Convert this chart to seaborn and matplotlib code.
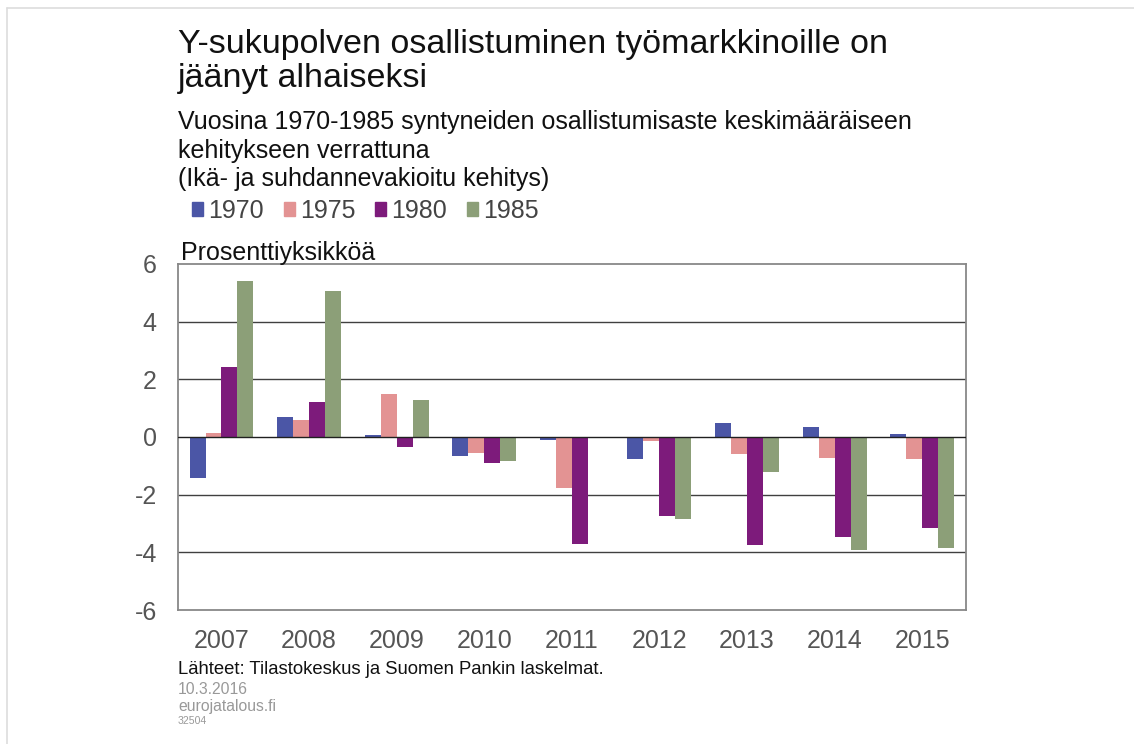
import pandas as pd
import numpy as np
import matplotlib.pyplot as plt
import seaborn as sns
from matplotlib.lines import Line2D

# Data
years = ['2007', '2008', '2009', '2010', '2011', '2012', '2013', '2014', '2015']
cohorts = ['1970', '1975', '1980', '1985']
v1970 = [-1.41, 0.68, 0.08, -0.67, -0.09, -0.78, 0.49, 0.34, 0.10]
v1975 = [0.14, 0.60, 1.48, -0.56, -1.77, -0.13, -0.60, -0.72, -0.76]
v1980 = [2.41, 1.20, -0.33, -0.91, -3.70, -2.74, -3.75, -3.47, -3.17]
v1985 = [5.40, 5.06, 1.30, -0.84, -0.03, -2.85, -1.20, -3.91, -3.86]
colors = ['#4b56a6', '#e39393', '#7d1b7b', '#8c9f78']

rows = []
for cohort, vals in zip(cohorts, [v1970, v1975, v1980, v1985]):
    for y, v in zip(years, vals):
        rows.append({'vuosi': y, 'kohortti': cohort, 'arvo': v})
df = pd.DataFrame(rows)

sns.set_style('white')
plt.rcParams['font.family'] = ['Liberation Sans', 'DejaVu Sans']

W, H = 1134, 744
fig = plt.figure(figsize=(W / 100, H / 100), dpi=100)
ax = fig.add_axes([0.1567, 0.1801, 0.6952, 0.4651])


def fy(px):
    # pixel row -> figure fraction
    return 1 - px / H


sns.barplot(data=df, x='vuosi', y='arvo', hue='kohortti', palette=colors,
            width=0.73, ax=ax, legend=False, saturation=1, errorbar=None,
            linewidth=0, edgecolor='none', zorder=3)

ax.set_ylim(-6, 6)
ax.set_xlim(-0.5, len(years) - 0.5)
ax.set_yticks(np.arange(-6, 7, 2))
ax.set_yticklabels([str(t) for t in range(-6, 7, 2)])
ax.set_xlabel('')
ax.set_ylabel('')
for t in [-4, -2, 2, 4]:
    ax.axhline(t, color='#404040', lw=1.0, zorder=1)
ax.axhline(0, color='#202020', lw=1.0, zorder=4)
for s in ax.spines.values():
    s.set_color('#888888')
    s.set_linewidth(1.3)
ax.tick_params(axis='both', length=0, labelsize=18, labelcolor='#555555')
ax.tick_params(axis='y', pad=15)
ax.tick_params(axis='x', pad=14)

# Titles
fig.text(0.157, fy(45), 'Y-sukupolven osallistuminen työmarkkinoille on',
         fontsize=24.5, va='center', ha='left', color='#111111')
fig.text(0.157, fy(78), 'jäänyt alhaiseksi',
         fontsize=24.5, va='center', ha='left', color='#111111')
for txt, py in [('Vuosina 1970-1985 syntyneiden osallistumisaste keskimääräiseen', 122),
                ('kehitykseen verrattuna', 151),
                ('(Ikä- ja suhdannevakioitu kehitys)', 179)]:
    fig.text(0.157, fy(py), txt, fontsize=18, va='center', ha='left', color='#111111')

# Legend
handles = [plt.Rectangle((0, 0), 1, 1, color=c) for c in colors]
fig.legend(handles, cohorts, loc='center left', bbox_to_anchor=(192 / W, fy(211)),
           ncol=4, frameon=False, fontsize=18, handlelength=0.44, handleheight=0.44,
           handletextpad=0.2, columnspacing=0.8, labelcolor='#444444',
           borderaxespad=0, borderpad=0)

fig.text(0.160, fy(253), 'Prosenttiyksikköä', fontsize=18, va='center', ha='left', color='#111111')

# Footnotes
fig.text(0.157, fy(670), 'Lähteet: Tilastokeskus ja Suomen Pankin laskelmat.', fontsize=13.3,
         va='center', ha='left', color='#111111')
fig.text(0.157, fy(689), '10.3.2016', fontsize=11.3, va='center', ha='left', color='#999999')
fig.text(0.157, fy(706), 'eurojatalous.fi', fontsize=11.3, va='center', ha='left', color='#999999')
fig.text(0.157, fy(721), '32504', fontsize=7.6, va='center', ha='left', color='#999999')

# faint outer frame of the original slide
fig.add_artist(Line2D([7 / W, 1], [fy(8), fy(8)], color='#dddddd', lw=1.2))
fig.add_artist(Line2D([7 / W, 7 / W], [0, fy(8)], color='#dddddd', lw=1.2))

fig.savefig('out.png', dpi=100)
